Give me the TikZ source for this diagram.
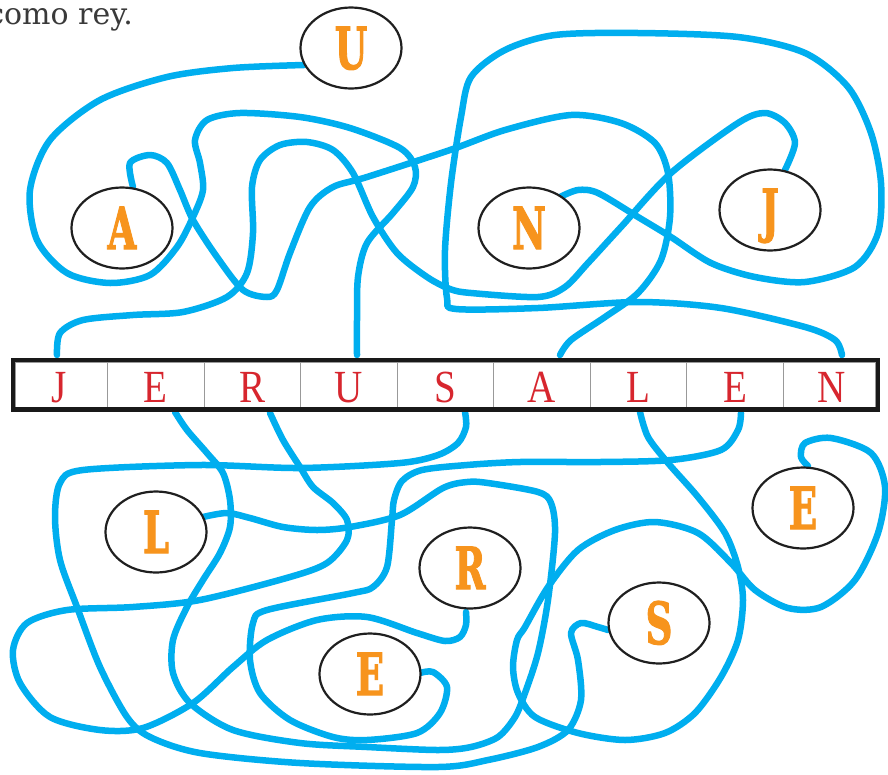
\documentclass[tikz,border=0pt]{standalone}
\usepackage{graphicx}
\usepackage{fontspec}
\setmainfont{Liberation Serif}
\newfontfamily\slab{DejaVu Serif}[BoldFeatures={FakeBold=2.2}]
\newfontfamily\captfont{DejaVu Serif}
\usetikzlibrary{shapes.geometric}
\definecolor{wire}{HTML}{00AEEF}
\definecolor{ltr}{HTML}{F7941D}
\definecolor{barred}{HTML}{D7262E}
\definecolor{captxt}{HTML}{3A3A3A}
\tikzset{
  wire/.style={draw=wire, line width=6.5pt, line cap=round, line join=round},
  oval/.style={ellipse, draw=black!88, line width=2.2pt, fill=white, minimum width=101pt, minimum height=81pt, inner sep=0pt},
  ovl/.style={font=\slab\bfseries\fontsize{58}{58}\selectfont, text=ltr, inner sep=0pt, anchor=base},
  barl/.style={font=\fontsize{46}{46}\selectfont, text=barred, inner sep=0pt, anchor=base},
  cellline/.style={draw=black!40, line width=0.9pt}
}
\newcommand{\sq}[1]{\scalebox{0.64}[1]{#1}}
\newcommand{\bq}[1]{\scalebox{0.85}[1]{#1}}
\begin{document}
\begin{tikzpicture}[x=1pt,y=-1pt]
\useasboundingbox (0,0) rectangle (888,774);
\fill[white] (0,0) rectangle (888,774);

% caption fragment
\node[anchor=base east, font=\captfont\fontsize{30}{30}\selectfont, text=captxt, inner sep=0pt] (cap) at (133,24) {como rey.};

% wires
\draw[wire] plot[smooth] coordinates {(304,65) (233,68) (167,77) (100,100) (50,140) (30,190) (37,240) (67,273) (110,283) (150,275) (177,247) (193,217) (203,190) (200,163) (195,140) (207,120) (240,113) (300,117) (350,128) (400,148) (415,167) (413,187) (393,213) (367,243) (358,277) (357,320) (357,355)};
\draw[wire] plot[smooth] coordinates {(133,187) (130,163) (150,155) (167,163) (180,190) (193,220) (217,257) (243,290) (267,297) (277,290) (290,253) (310,207) (333,187) (367,177) (450,150) (505,130) (571,115) (621,123) (655,143) (668,173) (670,217) (661,260) (638,293) (605,317) (571,340) (560,355)};
\draw[wire] plot[smooth] coordinates {(57,355) (60,333) (83,320) (133,315) (183,312) (227,297) (247,273) (253,233) (252,187) (260,160) (280,145) (307,142) (333,150) (353,173) (373,217) (397,253) (427,277) (450,289) (471,293) (538,297) (565,287) (588,263) (621,227) (671,173) (738,123) (765,113) (785,123) (795,143) (785,170)};
\draw[wire] plot[smooth] coordinates {(560,197) (578,190) (598,193) (638,217) (671,237) (711,263) (755,277) (805,282) (855,267) (878,233) (881,183) (871,133) (848,87) (805,53) (738,37) (638,33) (555,35) (505,50) (471,77) (461,117) (451,183) (445,250) (447,298) (456,309) (538,308) (638,302) (721,308) (805,327) (835,340) (842,355)};
\draw[wire] plot[smooth] coordinates {(175,412) (187,430) (207,453) (223,473) (230,500) (230,527) (220,553) (203,580) (187,607) (173,640) (173,673) (190,703) (233,730) (300,743) (367,747) (438,750) (471,747) (498,737) (515,717) (525,693) (538,653) (548,600) (555,533) (551,503) (538,492) (488,483) (467,482) (443,488) (400,515) (350,527) (317,530) (283,527) (250,518) (227,513) (203,517)};
\draw[wire] plot[smooth] coordinates {(270,413) (283,440) (300,467) (313,487) (333,503) (347,520) (347,540) (327,563) (290,577) (200,600) (133,607) (67,610) (27,623) (13,650) (20,683) (50,717) (100,730) (143,728) (193,703) (233,667) (267,640) (317,620) (367,617) (417,633) (445,641) (460,637) (466,625) (466,612)};
\draw[wire] plot[smooth] coordinates {(465,412) (466,427) (458,443) (438,455) (400,463) (300,468) (200,465) (83,470) (60,483) (55,517) (60,560) (77,607) (100,667) (127,717) (150,737) (200,753) (300,763) (438,767) (488,760) (538,747) (568,730) (581,700) (578,660) (571,633) (581,623) (598,627) (608,630)};
\draw[wire] plot[smooth] coordinates {(741,413) (738,430) (721,450) (671,460) (600,462) (520,462) (467,465) (422,470) (402,481) (394,500) (392,520) (387,567) (373,587) (353,593) (267,610) (253,623) (250,660) (260,693) (290,720) (333,737) (367,740) (417,733) (440,713) (447,687) (433,672) (420,673)};
\draw[wire] plot[smooth] coordinates {(640,412) (648,437) (668,463) (698,497) (725,533) (738,567) (743,600) (738,640) (721,677) (695,713) (665,733) (625,740) (578,733) (535,717) (518,693) (513,667) (517,640) (525,627) (548,587) (578,550) (615,530) (655,522) (698,533) (731,563) (755,590) (788,608) (821,607) (855,580) (878,533) (885,487) (871,453) (831,438) (805,443) (801,457) (808,466)};

% ovals
\node[oval] (oU) at (351,48) {};
\node[oval] (oA) at (122,228) {};
\node[oval] (oN) at (529,228) {};
\node[oval] (oJ) at (770,210) {};
\node[oval] (oL) at (156,532) {};
\node[oval] (oR) at (470,568) {};
\node[oval] (oE1) at (370,674) {};
\node[oval] (oS) at (659,623) {};
\node[oval] (oE2) at (803,508) {};
\node[ovl] (tU) at (351,69) {\sq{U}};
\node[ovl] (tA) at (122,249) {\sq{A}};
\node[ovl] (tN) at (529,249) {\sq{N}};
\node[ovl] (tJ) at (770,231) {\sq{J}};
\node[ovl] (tL) at (156,553) {\sq{L}};
\node[ovl] (tR) at (470,589) {\sq{R}};
\node[ovl] (tE1) at (370,695) {\sq{E}};
\node[ovl] (tS) at (659,644) {\sq{S}};
\node[ovl] (tE2) at (803,529) {\sq{E}};

% word bar
\fill[white] (13,360) rectangle (878,409.5);
\draw[cellline] (15.5,362.5) rectangle (875.5,407);
\foreach \i in {1,...,8} {
  \draw[cellline] ({11+96.56*\i},362) -- ({11+96.56*\i},407);
}
\draw[line width=4.5pt, black!90] (13,360) rectangle (878,409.5);
\foreach \c [count=\i from 0] in {J,E,R,U,S,A,L,E,N} {
  \node[barl] (b\i) at ({11+96.56*(\i+0.5)},402) {\bq{\c}};
}
\end{tikzpicture}
\end{document}
